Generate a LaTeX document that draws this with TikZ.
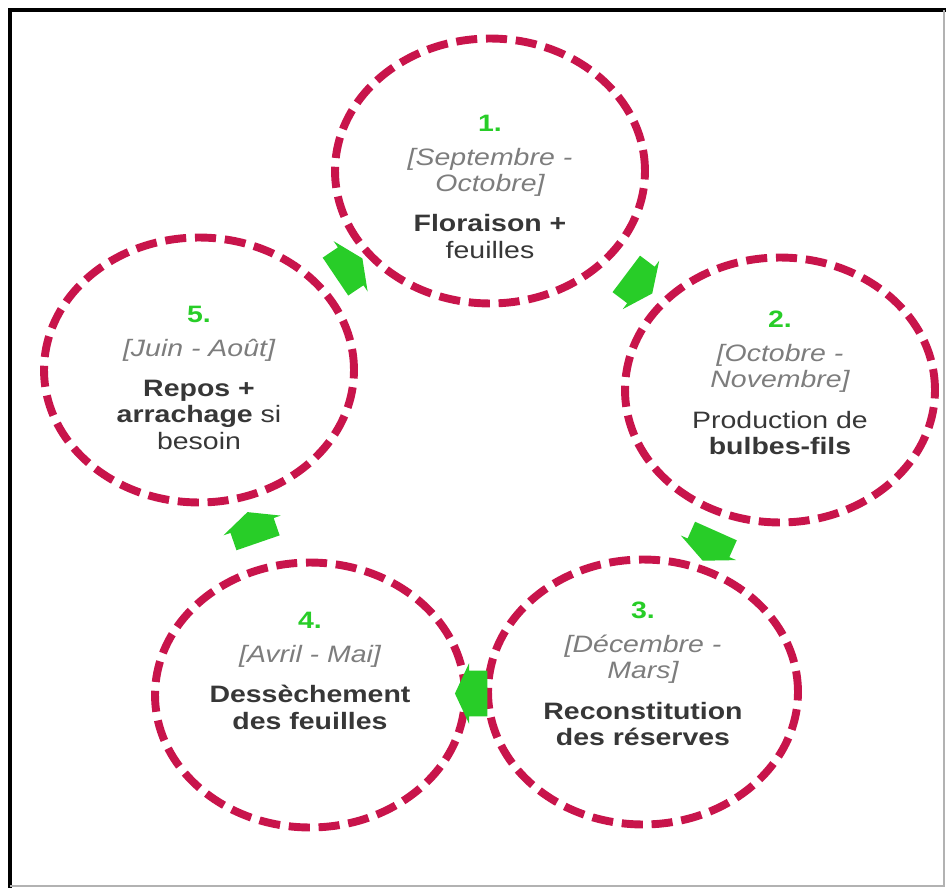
\documentclass[tikz,border=0pt]{standalone}
\usepackage{fontspec}
\setmainfont{Liberation Sans}[FakeStretch=1.2]
\usetikzlibrary{shapes.geometric,shapes.arrows,calc}

\definecolor{cyclered}{RGB}{200,20,75}
\definecolor{cyclegreen}{RGB}{40,205,40}
\definecolor{dategray}{RGB}{125,125,125}
\definecolor{textgray}{RGB}{55,55,55}

\tikzset{
  phase/.style={ellipse, draw=cyclered, line width=4.5pt, dash pattern=on 12pt off 5pt,
    minimum width=6.2cm, minimum height=5.3cm, inner sep=0pt},
  phasetext/.style={align=center, inner sep=0pt, text=textgray,
    font=\fontsize{13.5}{15}\selectfont},
  turn/.style={single arrow, fill=cyclegreen, draw=none, inner xsep=0pt, inner ysep=0.45cm,
    minimum height=0.65cm, single arrow head extend=0.15cm, single arrow tip angle=130}
}
\newcommand{\phasenum}[1]{{\color{cyclegreen}\textbf{#1}}}
\newcommand{\phasedate}[1]{{\color{dategray}\itshape #1}}

\begin{document}
\begin{tikzpicture}[x=0.02cm, y=-0.02cm]
  \useasboundingbox (0,0) rectangle (946,888);

  % Frame
  \draw[line width=2.3pt] (10,888) -- (10,10) -- (946,10);
  \draw[gray!60, line width=0.6pt] (944,10) -- (944,886) -- (10,886);

  % Phases
  \node[phase] (c1) at (490,171) {};
  \node[phase] (c2) at (780,390) {};
  \node[phase] (c3) at (643,692) {};
  \node[phase] (c4) at (310,695) {};
  \node[phase] (c5) at (199,370) {};

  % Texts
  \node[phasetext] (t1) at ($(c1)+(0,16)$) {\phasenum{1.}\\[4pt]
    \phasedate{[Septembre -}\\ \phasedate{Octobre]}\\[8pt]
    \textbf{Floraison +}\\ feuilles};
  \node[phasetext] (t2) at ($(c2)+(0,-7)$) {\phasenum{2.}\\[4pt]
    \phasedate{[Octobre -}\\ \phasedate{Novembre]}\\[8pt]
    Production de\\ \textbf{bulbes-fils}};
  \node[phasetext] (t3) at ($(c3)+(0,-18)$) {\phasenum{3.}\\[4pt]
    \phasedate{[Décembre -}\\ \phasedate{Mars]}\\[8pt]
    \textbf{Reconstitution}\\ \textbf{des réserves}};
  \node[phasetext] (t4) at ($(c4)+(0,-24)$) {\phasenum{4.}\\[4pt]
    \phasedate{[Avril - Mai]}\\[8pt]
    \textbf{Dessèchement}\\ \textbf{des feuilles}};
  \node[phasetext] (t5) at ($(c5)+(0,8)$) {\phasenum{5.}\\[4pt]
    \phasedate{[Juin - Août]}\\[8pt]
    \textbf{Repos +}\\ \textbf{arrachage} si\\ besoin};

  % Arrows between phases
  \node[turn, rotate=-37] (a12) at ($(c1)!0.5!(c2)$) {};
  \node[turn, rotate=-114] (a23) at ($(c2)!0.5!(c3)$) {};
  \node[turn, rotate=180] (a34) at ($(c3)!0.5!(c4)$) {};
  \node[turn, rotate=109] (a45) at ($(c4)!0.5!(c5)$) {};
  \node[turn, rotate=34] (a51) at ($(c5)!0.5!(c1)$) {};
\end{tikzpicture}
\end{document}
